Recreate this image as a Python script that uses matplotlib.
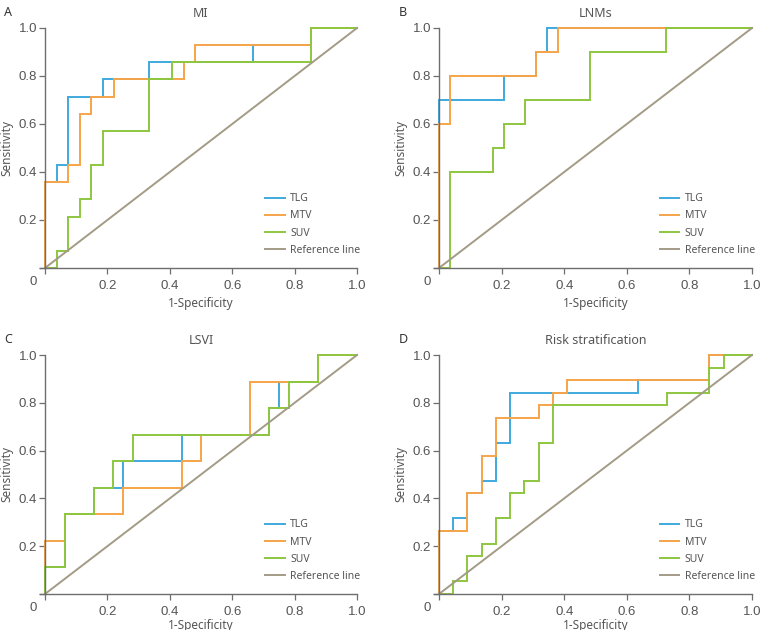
import matplotlib
matplotlib.use("Agg")
import matplotlib.pyplot as plt

# ROC step curves: (1-specificity, sensitivity) vertices per marker
# A: MI (27 negatives, 14 positives)
mi_tlg_x = [0, 0, 0.037, 0.037, 0.074, 0.074, 0.185, 0.185, 0.333, 0.333, 0.667, 0.667, 0.852, 0.852, 1]
mi_tlg_y = [0, 0.357, 0.357, 0.429, 0.429, 0.714, 0.714, 0.786, 0.786, 0.857, 0.857, 0.929, 0.929, 1, 1]
mi_mtv_x = [0, 0, 0.074, 0.074, 0.111, 0.111, 0.148, 0.148, 0.222, 0.222, 0.444, 0.444, 0.481, 0.481, 0.852, 0.852, 1]
mi_mtv_y = [0, 0.357, 0.357, 0.429, 0.429, 0.643, 0.643, 0.714, 0.714, 0.786, 0.786, 0.857, 0.857, 0.929, 0.929, 1, 1]
mi_suv_x = [0, 0.037, 0.037, 0.074, 0.074, 0.111, 0.111, 0.148, 0.148, 0.185, 0.185, 0.333, 0.333, 0.407, 0.407, 0.852, 0.852, 1]
mi_suv_y = [0, 0, 0.071, 0.071, 0.214, 0.214, 0.286, 0.286, 0.429, 0.429, 0.571, 0.571, 0.786, 0.786, 0.857, 0.857, 1, 1]

# B: LNMs (29 negatives, 10 positives)
lnm_tlg_x = [0, 0, 0.207, 0.207, 0.310, 0.310, 0.345, 0.345, 1]
lnm_tlg_y = [0, 0.7, 0.7, 0.8, 0.8, 0.9, 0.9, 1, 1]
lnm_mtv_x = [0, 0, 0.034, 0.034, 0.310, 0.310, 0.379, 0.379, 1]
lnm_mtv_y = [0, 0.6, 0.6, 0.8, 0.8, 0.9, 0.9, 1, 1]
lnm_suv_x = [0, 0.034, 0.034, 0.172, 0.172, 0.207, 0.207, 0.276, 0.276, 0.483, 0.483, 0.724, 0.724, 1]
lnm_suv_y = [0, 0, 0.4, 0.4, 0.5, 0.5, 0.6, 0.6, 0.7, 0.7, 0.9, 0.9, 1, 1]

# C: LSVI (32 negatives, 9 positives)
lsvi_tlg_x = [0, 0, 0.0625, 0.0625, 0.156, 0.156, 0.25, 0.25, 0.4375, 0.4375, 0.719, 0.719, 0.75, 0.75, 0.875, 0.875, 1]
lsvi_tlg_y = [0, 0.111, 0.111, 0.333, 0.333, 0.444, 0.444, 0.556, 0.556, 0.667, 0.667, 0.778, 0.778, 0.889, 0.889, 1, 1]
lsvi_mtv_x = [0, 0, 0.0625, 0.0625, 0.25, 0.25, 0.4375, 0.4375, 0.5, 0.5, 0.656, 0.656, 0.875, 0.875, 1]
lsvi_mtv_y = [0, 0.222, 0.222, 0.333, 0.333, 0.444, 0.444, 0.556, 0.556, 0.667, 0.667, 0.889, 0.889, 1, 1]
lsvi_suv_x = [0, 0, 0.0625, 0.0625, 0.156, 0.156, 0.219, 0.219, 0.281, 0.281, 0.719, 0.719, 0.781, 0.781, 0.875, 0.875, 1]
lsvi_suv_y = [0, 0.111, 0.111, 0.333, 0.333, 0.444, 0.444, 0.556, 0.556, 0.667, 0.667, 0.778, 0.778, 0.889, 0.889, 1, 1]

# D: Risk stratification (22 negatives, 19 positives)
risk_tlg_x = [0, 0, 0.045, 0.045, 0.091, 0.091, 0.136, 0.136, 0.182, 0.182, 0.227, 0.227, 0.636, 0.636, 0.864, 0.864, 1]
risk_tlg_y = [0, 0.263, 0.263, 0.316, 0.316, 0.421, 0.421, 0.474, 0.474, 0.632, 0.632, 0.842, 0.842, 0.895, 0.895, 1, 1]
risk_mtv_x = [0, 0, 0.091, 0.091, 0.136, 0.136, 0.182, 0.182, 0.318, 0.318, 0.364, 0.364, 0.409, 0.409, 0.864, 0.864, 1]
risk_mtv_y = [0, 0.263, 0.263, 0.421, 0.421, 0.579, 0.579, 0.737, 0.737, 0.789, 0.789, 0.842, 0.842, 0.895, 0.895, 1, 1]
risk_suv_x = [0, 0.045, 0.045, 0.091, 0.091, 0.136, 0.136, 0.182, 0.182, 0.227, 0.227, 0.273, 0.273, 0.318, 0.318,
              0.364, 0.364, 0.727, 0.727, 0.864, 0.864, 0.909, 0.909, 1]
risk_suv_y = [0, 0, 0.053, 0.053, 0.158, 0.158, 0.211, 0.211, 0.316, 0.316, 0.421, 0.421, 0.474, 0.474, 0.632,
              0.632, 0.789, 0.789, 0.842, 0.842, 0.947, 0.947, 1, 1]

ref_x = [0, 1]
ref_y = [0, 1]

series_labels = ["TLG", "MTV", "SUV", "Reference line"]
colors = ["#3fa9de", "#f6a448", "#8dc63f", "#a39b86"]
tick_vals = [0, 0.2, 0.4, 0.6, 0.8, 1.0]
tick_text = ["0", "0.2", "0.4", "0.6", "0.8", "1.0"]

panels = [
    ("A", "MI", [(mi_tlg_x, mi_tlg_y), (mi_mtv_x, mi_mtv_y), (mi_suv_x, mi_suv_y)]),
    ("B", "LNMs", [(lnm_tlg_x, lnm_tlg_y), (lnm_mtv_x, lnm_mtv_y), (lnm_suv_x, lnm_suv_y)]),
    ("C", "LSVI", [(lsvi_tlg_x, lsvi_tlg_y), (lsvi_mtv_x, lsvi_mtv_y), (lsvi_suv_x, lsvi_suv_y)]),
    ("D", "Risk stratification", [(risk_tlg_x, risk_tlg_y), (risk_mtv_x, risk_mtv_y), (risk_suv_x, risk_suv_y)]),
]

W, H = 762, 630
# axes boxes in pixels: left, right, top, bottom
boxes = [
    (45, 357, 28, 268),
    (439, 752, 28, 268),
    (45, 357, 355, 594),
    (439, 752, 355, 594),
]

text_color = "#555555"
spine_color = "#6e6e6e"

fig = plt.figure(figsize=(W / 100, H / 100), dpi=100)

for (letter, title, curves), (l, r, t, b) in zip(panels, boxes):
    ax = fig.add_axes([l / W, 1 - b / H, (r - l) / W, (b - t) / H])
    for (x, y), c, lab in zip(curves, colors, series_labels):
        ax.plot(x, y, color=c, lw=1.4, label=lab, solid_joinstyle="miter", clip_on=False)
    ax.plot(ref_x, ref_y, color=colors[3], lw=1.4, label=series_labels[3], clip_on=False)

    ax.set_xlim(0, 1)
    ax.set_ylim(0, 1)
    ax.set_xticks(tick_vals)
    ax.set_xticklabels([""] + tick_text[1:])
    ax.set_yticks(tick_vals)
    ax.set_yticklabels([""] + tick_text[1:])
    for s in ["top", "right"]:
        ax.spines[s].set_visible(False)
    for s in ["left", "bottom"]:
        ax.spines[s].set_color(spine_color)
        ax.spines[s].set_linewidth(1.0)
    ax.spines["bottom"].set_bounds(-0.016, 1)
    ax.tick_params(colors=spine_color, labelcolor=text_color, length=4, width=0.9,
                   labelsize=9.5)
    ax.tick_params(axis="x", pad=4.5)
    ax.tick_params(axis="y", pad=1.5)
    for lbl in ax.get_xticklabels() + ax.get_yticklabels():
        lbl.set_family("Liberation Sans")
    # the lone "0" sits left of the origin
    ax.text(-0.038, -0.058, tick_text[0], transform=ax.transAxes, fontsize=9.5,
            color=text_color, family="Liberation Sans", ha="center", va="center")

    # bottom row: pull the x label up a little so it stays inside the canvas
    xpad = 4 if b < 300 else 0.5
    ax.set_xlabel("1-Specificity", fontsize=8.5, color=text_color, family="Noto Sans", labelpad=xpad)
    ax.set_ylabel("Sensitivity", fontsize=8.5, color=text_color, family="Noto Sans")
    ax.yaxis.set_label_coords(-0.1, 0.5)
    ax.set_title(title, fontsize=9, color=text_color, family="Noto Sans", pad=8)
    ax.text(-0.13, 1.066, letter, transform=ax.transAxes, fontsize=9, fontweight="bold",
            color="#333333", family="Noto Sans", va="center", ha="left")

    leg = ax.legend(loc="lower left", frameon=False, fontsize=7.5, handlelength=1.9,
                    handletextpad=0.5, labelspacing=0.6, borderpad=0, borderaxespad=0,
                    bbox_to_anchor=(0.705, 0.05))
    for txt in leg.get_texts():
        txt.set_color(text_color)
        txt.set_family("Noto Sans")

fig.savefig("out.png", dpi=100)
